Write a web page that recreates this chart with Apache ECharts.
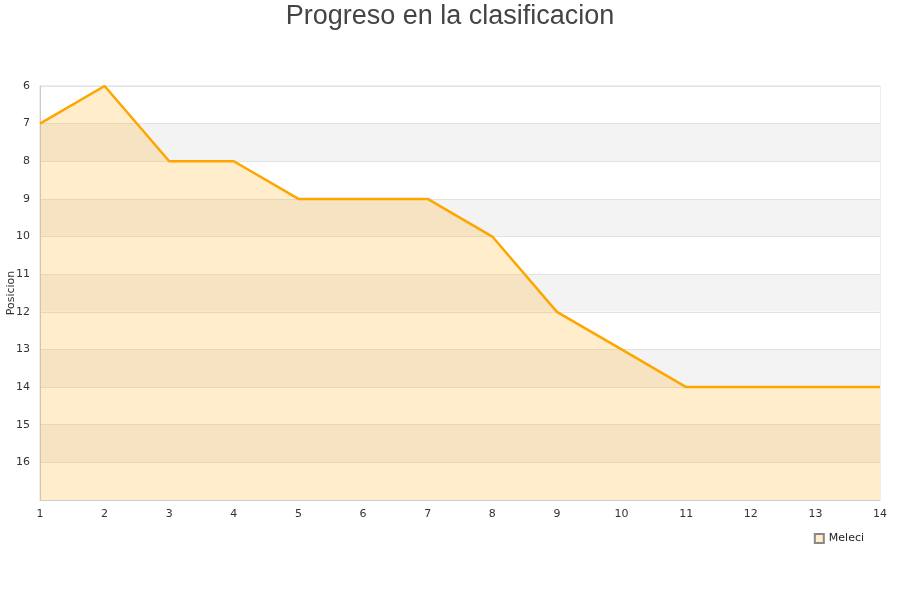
<!DOCTYPE html>
<html><head><meta charset="utf-8">
<script src="https://cdn.jsdelivr.net/npm/echarts@6/dist/echarts.min.js"></script>
<style>html,body{margin:0;padding:0;background:#fff}#c{width:900px;height:600px}</style>
</head><body><div id="c"></div>
<script>
const jornadas = ['1','2','3','4','5','6','7','8','9','10','11','12','13','14'];
const posiciones = [7,6,8,8,9,9,9,10,12,13,14,14,14,14];
const serieNombre = 'Meleci';
const titulo = 'Progreso en la clasificacion';

const chart = echarts.init(document.getElementById('c'));
chart.setOption({
  animation:false,
  backgroundColor:'#fff',
  title:{text:titulo,left:'center',top:-2,textStyle:{fontFamily:'Liberation Sans, Arial',fontSize:27,fontWeight:'normal',color:'#444'}},
  legend:{data:[{name:serieNombre,icon:'rect'}],right:30,top:529,itemWidth:9,itemHeight:9,itemGap:6,
    backgroundColor:'#fff',padding:[4,6],z:10,
    textStyle:{fontFamily:'DejaVu Sans',fontSize:11,color:'#222'}},
  grid:{left:40,right:20,top:86,bottom:100,show:true,borderColor:'#ddd',borderWidth:1,containLabel:false,outerBoundsMode:'none'},
  xAxis:{type:'category',data:jornadas,boundaryGap:false,
    axisLine:{lineStyle:{color:'#ccc'}},axisTick:{show:false},
    axisLabel:{fontFamily:'DejaVu Sans',fontSize:11,color:'#333',margin:9},
    splitLine:{show:false}},
  yAxis:{type:'value',inverse:true,min:6,max:17,interval:1,
    name:'Posicion',nameLocation:'middle',nameGap:23,nameMoveOverlap:false,nameTextStyle:{fontFamily:'DejaVu Sans',fontSize:11,color:'#333'},
    axisLine:{show:true,lineStyle:{color:'#ccc'}},axisTick:{show:false},
    axisLabel:{fontFamily:'DejaVu Sans',fontSize:11,color:'#333',margin:10,formatter:v=>v===17?'':String(v)},
    splitLine:{show:true,lineStyle:{color:'#e3e3e3'}},
    splitArea:{show:true,areaStyle:{color:['#ffffff','#f3f3f3']}}},
  series:[{name:serieNombre,type:'line',data:posiciones,symbol:'none',
    lineStyle:{color:'#ffa500',width:2.5},itemStyle:{color:'#ffedcc',borderColor:'#888',borderWidth:1},
    areaStyle:{color:'rgba(255,165,0,0.2)',opacity:1,origin:'end'}}]
});
</script></body></html>
